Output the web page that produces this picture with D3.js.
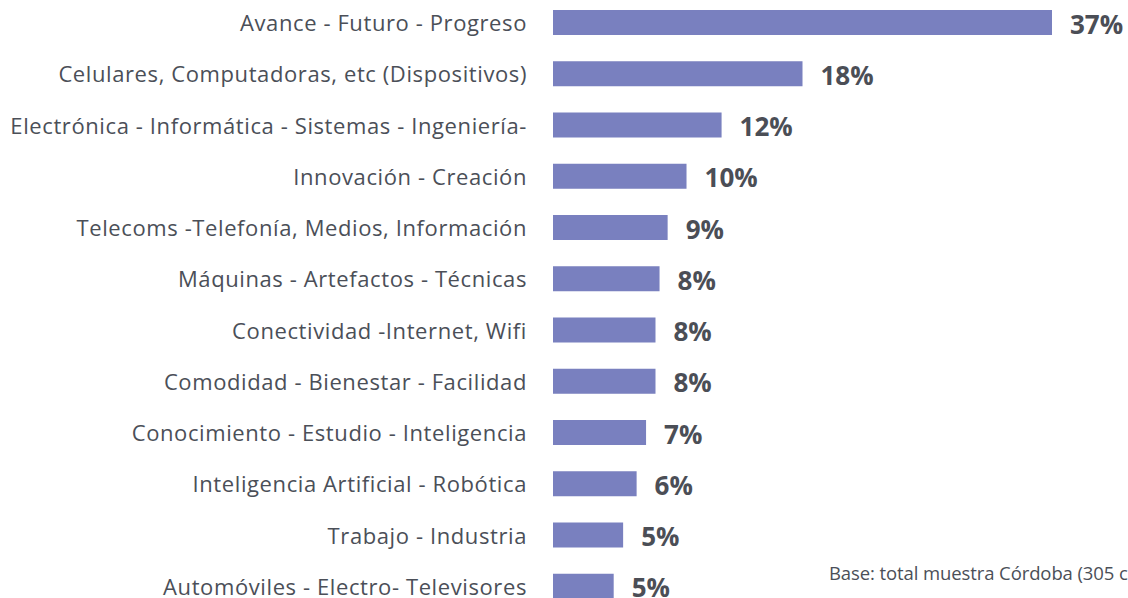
<!DOCTYPE html>
<html>
<head>
<meta charset="utf-8">
<script src="https://cdn.jsdelivr.net/npm/d3@7"></script>
<style>
  body { margin: 0; background: #fff; }
  svg { display: block; }
</style>
</head>
<body>
<svg id="chart"></svg>
<script>
// Categories (top to bottom)
const categories = [
  "Avance - Futuro - Progreso",
  "Celulares, Computadoras, etc (Dispositivos)",
  "Electrónica - Informática - Sistemas - Ingeniería-",
  "Innovación - Creación",
  "Telecoms -Telefonía, Medios, Información",
  "Máquinas - Artefactos - Técnicas",
  "Conectividad -Internet, Wifi",
  "Comodidad - Bienestar - Facilidad",
  "Conocimiento - Estudio - Inteligencia",
  "Inteligencia Artificial - Robótica",
  "Trabajo - Industria",
  "Automóviles - Electro- Televisores"
];

// Bar lengths (%)
const values = [37.0, 18.5, 12.5, 9.9, 8.5, 7.9, 7.6, 7.6, 6.9, 6.2, 5.2, 4.5];

// Printed value labels
const valueLabels = ["37%", "18%", "12%", "10%", "9%", "8%", "8%", "8%", "7%", "6%", "5%", "5%"];

const footnote = "Base: total muestra Córdoba (305 casos)";

const width = 1128;
const height = 598;

const svg = d3.select("#chart")
  .attr("width", width)
  .attr("height", height);

// Scales
const x = d3.scaleLinear()
  .domain([0, 37])
  .range([553, 1052]);

const y = d3.scaleBand()
  .domain(categories)
  .range([10, 10 + 11 * 51.25 + 25])
  .paddingInner(26.25 / 51.25)
  .paddingOuter(0);

const rows = categories.map((c, i) => ({ cat: c, value: values[i], label: valueLabels[i] }));

// Bars
svg.selectAll("rect.bar")
  .data(rows)
  .join("rect")
  .attr("class", "bar")
  .attr("x", x(0))
  .attr("y", d => y(d.cat))
  .attr("width", d => x(d.value) - x(0))
  .attr("height", y.bandwidth())
  .attr("fill", "#7980bf");

// Category labels
svg.selectAll("text.cat")
  .data(rows)
  .join("text")
  .attr("class", "cat")
  .attr("x", 527)
  .attr("y", d => y(d.cat) + y.bandwidth() / 2 + 8.5)
  .attr("text-anchor", "end")
  .attr("font-family", "'Open Sans', sans-serif")
  .attr("font-size", 22)
  .attr("letter-spacing", 0.6)
  .attr("fill", "#4b4f58")
  .text(d => d.cat);

// Value labels
svg.selectAll("text.val")
  .data(rows)
  .join("text")
  .attr("class", "val")
  .attr("x", d => x(d.value) + 18)
  .attr("y", d => y(d.cat) + y.bandwidth() / 2 + 11)
  .attr("font-family", "'Open Sans', sans-serif")
  .attr("font-weight", "bold")
  .attr("font-size", 26)
  .attr("fill", "#4b4e56")
  .text(d => d.label);

// Footnote (runs off the right edge, as in the original)
svg.append("text")
  .attr("x", 829)
  .attr("y", 580)
  .attr("font-family", "'Open Sans', sans-serif")
  .attr("font-size", 18.5)
  .attr("letter-spacing", -0.1)
  .attr("fill", "#4b4f58")
  .text(footnote);
</script>
</body>
</html>
